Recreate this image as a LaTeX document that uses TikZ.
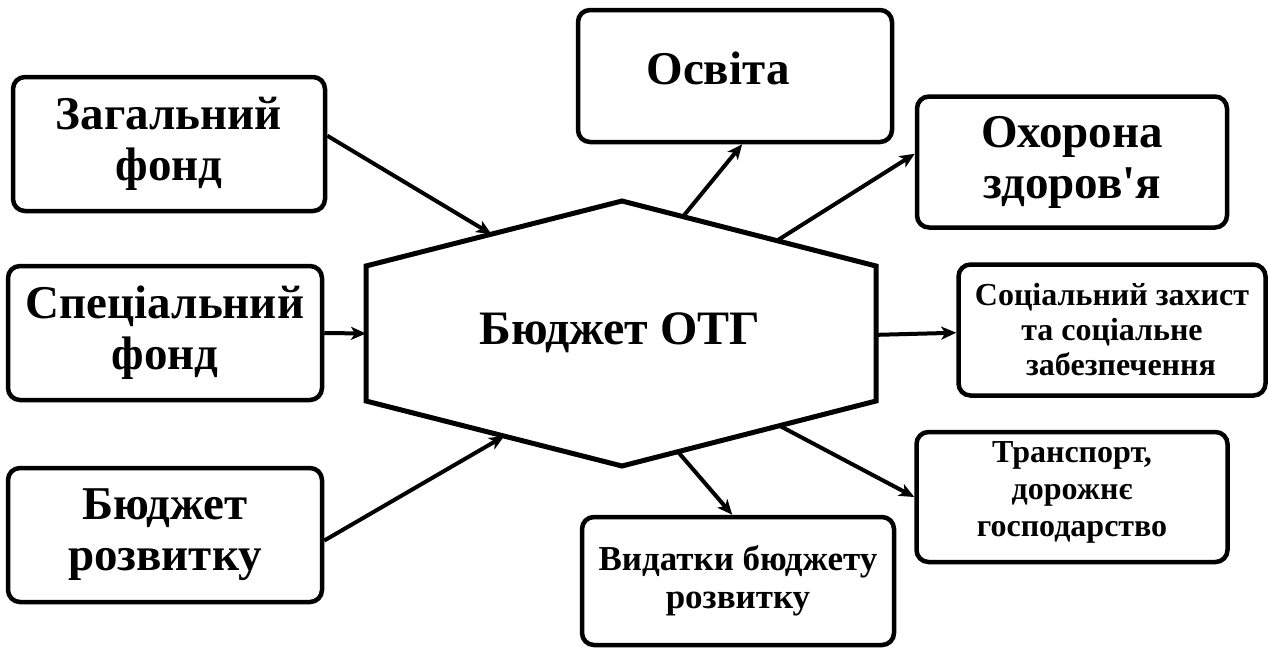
\documentclass[tikz,border=0pt]{standalone}
\usepackage{fontspec}
\setmainfont{Liberation Serif}[Ligatures=TeXOff]
\usetikzlibrary{arrows.meta,calc}

\begin{document}
\begin{tikzpicture}[x=1pt,y=-1pt,
  box/.style={draw,line width=4.5pt,rounded corners=12pt,align=center,inner sep=0pt,
    font=\bfseries\fontsize{47}{51}\selectfont},
  smallbox/.style={box,font=\bfseries\fontsize{32}{35}\selectfont},
  link/.style={line width=4pt,-{Stealth[length=15pt,width=13pt,inset=4pt]}}]
\useasboundingbox (0,0) rectangle (1268,648);

% ---- corners of the hexagon
\coordinate (lt) at (366,266);
\coordinate (top) at (622,201);
\coordinate (rt) at (876,266);
\coordinate (rb) at (876,401);
\coordinate (bot) at (622,466);
\coordinate (lb) at (366,401);
\draw[line width=5pt] (lt) -- (top) -- (rt) -- (rb) -- (bot) -- (lb) -- cycle;
\node[font=\bfseries\fontsize{48}{50}\selectfont] (bud) at (620,333) {Бюджет ОТГ};

% ---- sources (left)
\node[box,minimum width=312pt,minimum height=134pt] (zag) at (169,144) {Загальний\\фонд};
\node[box,minimum width=314pt,minimum height=134pt] (spec) at (165,333) {Спеціальний\\фонд};
\node[box,minimum width=314pt,minimum height=134pt] (rozv) at (165,535) {Бюджет\\розвитку};

% ---- expenses (right)
\node[box,minimum width=314pt,minimum height=132pt,text depth=16pt] (osv) at (735,76) {Освіта\hspace*{34pt}};
\node[box,minimum width=310pt,minimum height=131pt] (okh) at (1072,162) {Охорона\\здоров'я};
\node[smallbox,minimum width=307pt,minimum height=131pt] (soc) at (1112,330) {Соціальний захист\\та соціальне\\\hspace*{18pt}забезпечення};
\node[smallbox,minimum width=311pt,minimum height=130pt,text depth=15pt,
  font=\bfseries\fontsize{32}{37}\selectfont] (trans) at (1072,497) {Транспорт,\\дорожнє\\господарство};
\node[smallbox,minimum width=312pt,minimum height=128pt,font=\bfseries\fontsize{35}{38}\selectfont] (vyd) at (738,581) {Видатки бюджету\\розвитку};

% ---- points on the hexagon where the arrows meet it
\coordinate (inzag) at ($(lt)!0.49!(top)$);
\coordinate (inspec) at ($(lt)!0.5!(lb)$);
\coordinate (inrozv) at ($(lb)!0.54!(bot)$);
\coordinate (outosv) at ($(top)!0.24!(rt)$);
\coordinate (outokh) at ($(top)!0.61!(rt)$);
\coordinate (outsoc) at ($(rt)!0.51!(rb)$);
\coordinate (outtrans) at ($(bot)!0.62!(rb)$);
\coordinate (outvyd) at ($(bot)!0.22!(rb)$);

\draw[link] (zag.3) -- (inzag);
\draw[link] (spec.east) -- (inspec);
\draw[link] (rozv.-2) -- (inrozv);
\draw[link] (outosv) -- (osv.-84);
\draw[link] (outokh) -- (okh.177);
\draw[link] (outsoc) -- (soc.181);
\draw[link] (outtrans) -- (trans.west);
\draw[link] (outvyd) -- (vyd.95);

\end{tikzpicture}
\end{document}
